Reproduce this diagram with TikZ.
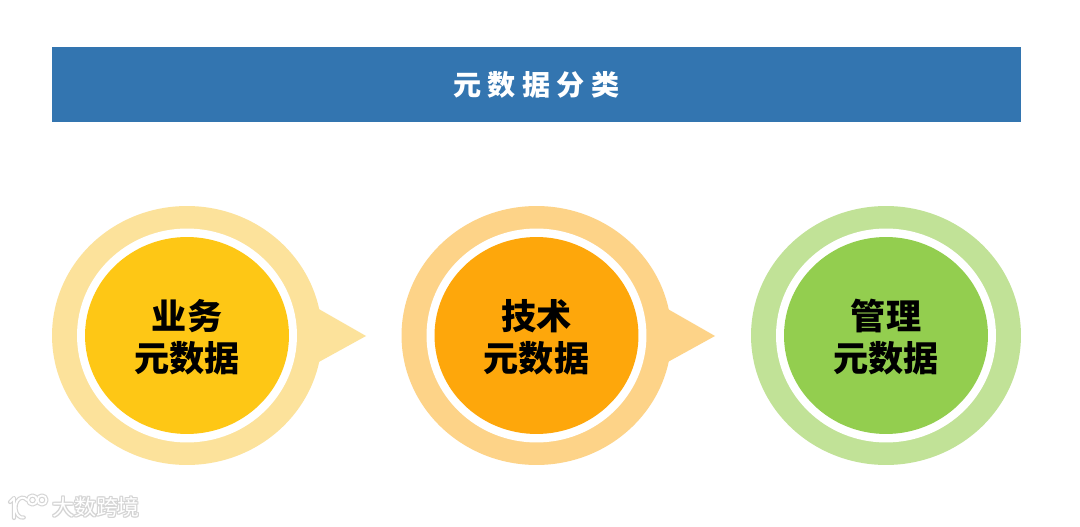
\documentclass[tikz,border=0pt]{standalone}
\usepackage{fontspec}
\newfontfamily\cjk{Noto Sans CJK SC}
\usepackage{xcolor}
\usetikzlibrary{shapes.geometric}
\definecolor{banner}{HTML}{3375B0}
\definecolor{yellowpale}{HTML}{FCE29B}
\definecolor{yellowfull}{HTML}{FEC715}
\definecolor{orangepale}{HTML}{FDD388}
\definecolor{orangefull}{HTML}{FEA70B}
\definecolor{greenpale}{HTML}{C1E297}
\definecolor{greenfull}{HTML}{93CE4F}
\definecolor{markgray}{HTML}{D4D4D4}
\tikzset{
  outerdisc/.style={ellipse, minimum width=5.4cm, minimum height=5.18cm, inner sep=0pt},
  whitedisc/.style={ellipse, fill=white, minimum width=4.4cm, minimum height=4.28cm, inner sep=0pt},
  innerdisc/.style={ellipse, minimum width=4.08cm, minimum height=3.94cm, inner sep=0pt},
  disclabel/.style={align=center, inner sep=0pt, font=\cjk\bfseries\fontsize{20}{23.9}\selectfont},
  markline/.style={line width=#1, line cap=round, line join=round}
}

\begin{document}
\begin{tikzpicture}[x=0.02cm, y=-0.02cm]
  \useasboundingbox (0, 0) rectangle (1080, 527);
  \fill[white] (0, 0) rectangle (1080, 527);

  % Banner
  \node[fill=banner, minimum width=19.38cm, minimum height=1.5cm, inner sep=0pt,
    text=white, font=\cjk\bfseries\fontsize{16}{16}\selectfont] (title) at (536.5, 84.5) {元 数 据 分 类};

  % Tails
  \coordinate (tipa) at (366, 336);
  \coordinate (tipb) at (715, 336);
  \fill[yellowpale] (317, 308) -- (tipa) -- (317, 363) -- cycle;
  \fill[orangepale] (666, 308) -- (tipb) -- (666, 363) -- cycle;

  % Business
  \node[outerdisc, fill=yellowpale] (outera) at (187, 335.5) {};
  \node[whitedisc] (ringa) at (outera.center) {};
  \node[innerdisc, fill=yellowfull] (inna) at (outera.center) {};
  \node[disclabel] (texta) at (187, 337) {业务\\元数据};

  % Technical
  \node[outerdisc, fill=orangepale] (outerb) at (536.5, 335.5) {};
  \node[whitedisc] (ringb) at (outerb.center) {};
  \node[innerdisc, fill=orangefull] (innb) at (outerb.center) {};
  \node[disclabel] (textb) at (536.5, 337) {技术\\元数据};

  % Management
  \node[outerdisc, fill=greenpale] (outerc) at (886, 335.5) {};
  \node[whitedisc] (ringc) at (outerc.center) {};
  \node[innerdisc, fill=greenfull] (innc) at (outerc.center) {};
  \node[disclabel] (textc) at (886, 337) {管理\\元数据};

  % Watermark
  \foreach \dx/\dy in {-1/0, 1/0, 0/-1, 0/1, -1/-1, 1/1, -1/1, 1/-1} {
    \node[text=markgray, font=\cjk\fontsize{12.5}{12.5}\selectfont] at (96+\dx, 507+\dy) {大数跨境};
  }
  \node[text=white, font=\cjk\fontsize{12.5}{12.5}\selectfont] (mark) at (96, 507) {大数跨境};
  \foreach \w/\c in {2.4pt/markgray, 1.1pt/white} {
    \draw[markline=\w, \c] (10, 502) -- (14, 498) -- (14, 518);
    \draw[markline=\w, \c] (27, 500) arc (-50:-280:7 and 10);
    \draw[markline=\w, \c] (32.5, 500) circle (4.5);
    \draw[markline=\w, \c] (42, 500) circle (4.5);
  }
\end{tikzpicture}
\end{document}
